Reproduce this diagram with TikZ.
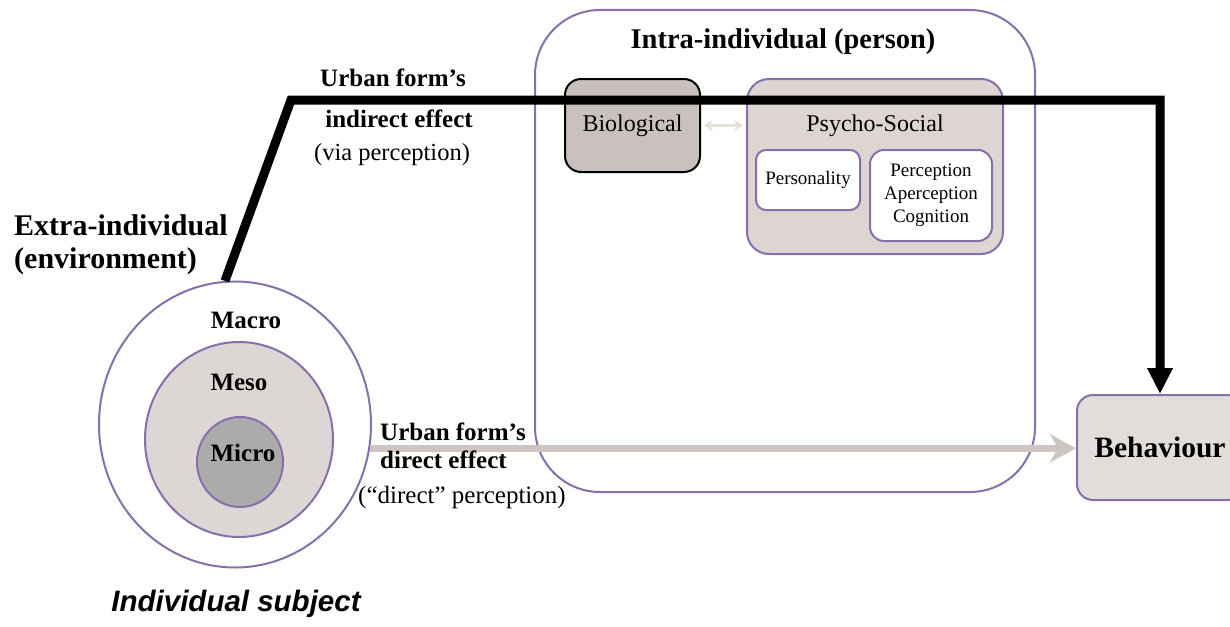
\documentclass[tikz,border=0pt]{standalone}
\usepackage{fontspec}
\setmainfont{Liberation Serif}
\newfontfamily\arialf{Liberation Sans}
\usetikzlibrary{arrows.meta,shapes.geometric,calc}
\definecolor{purp}{HTML}{8570AC}
\definecolor{biofill}{HTML}{C9C1BD}
\definecolor{psyfill}{HTML}{DCD5D2}
\definecolor{mesofill}{HTML}{DCD6D4}
\definecolor{microfill}{HTML}{ABABAB}
\definecolor{behfill}{HTML}{E0DDDB}
\definecolor{grayarrow}{HTML}{CDC5C2}
\definecolor{lightarrow}{HTML}{E6E4D8}
\newcommand{\fs}[1]{\fontsize{#1}{#1}\selectfont}
\tikzset{
  pbox/.style={draw=purp, line width=2pt, rectangle, inner sep=0pt},
  circ/.style={draw=purp, line width=2pt, ellipse, inner sep=0pt},
  lbl/.style={inner sep=0pt, font=\fs{25}},
  blbl/.style={inner sep=0pt, font=\fs{25}\bfseries},
  blackline/.style={line width=9pt, line join=miter},
}
\begin{document}
\begin{tikzpicture}[x=1pt,y=-1pt]
\useasboundingbox (0,0) rectangle (1230,626);
% Intra-individual container
\node[pbox, rounded corners=65pt, minimum width=500pt, minimum height=482pt] (intra) at (785,251) {};
\node[blbl, font=\fs{28.5}\bfseries] (intratitle) at (783,42) {Intra-individual (person)};
% Biological
\node[draw=black, line width=2pt, fill=biofill, rounded corners=16pt, minimum width=135pt, minimum height=93pt, font=\fs{24}] (bio) at (632.5,125.5) {Biological};
% Psycho-Social
\node[pbox, fill=psyfill, rounded corners=22pt, minimum width=256pt, minimum height=175pt] (psy) at (875,166.5) {};
\node[lbl, font=\fs{24}] (psytitle) at (875,126) {Psycho-Social};
\node[pbox, fill=white, rounded corners=10pt, minimum width=104pt, minimum height=60pt, font=\fs{19}] (pers) at (808,180) {\raisebox{-3pt}{Personality}};
\node[pbox, fill=white, rounded corners=14pt, minimum width=122pt, minimum height=91pt, font=\fs{19}, align=center] (perc) at (931,195.5) {Perception\\[4pt]Aperception\\[4pt]Cognition};
\draw[lightarrow, line width=3pt, {Stealth[length=9pt,width=12pt]}-{Stealth[length=9pt,width=12pt]}] ($(bio.east)+(3,0)$) -- ($(bio.east -| psy.west)+(-3,0)$);
% Behaviour
\node[pbox, fill=behfill, rounded corners=16pt, minimum width=166pt, minimum height=105pt, font=\fs{29.5}\bfseries] (behav) at (1160,447.5) {Behaviour};
% Circles
\node[circ, fill=white, minimum width=272pt, minimum height=286pt] (outer) at (235,424.5) {};
\node[circ, fill=mesofill, minimum width=188pt, minimum height=195pt] (meso) at (239,439.5) {};
\node[circ, fill=microfill, minimum width=86pt, minimum height=90pt] (micro) at (240,462) {};
\node[blbl] (macrol) at (246,320) {Macro};
\node[blbl] (mesol) at (239,382) {Meso};
\node[blbl] (microl) at (243,453) {Micro};
% Indirect effect path
\coordinate (bend) at (291,100);
\draw[blackline, -{Triangle[length=26pt,width=24pt]}] (outer.94) -- (bend) -- (bend -| behav.north) -- (behav.north);
% Direct effect arrow
\draw[grayarrow, line width=7pt, -{Stealth[length=26pt,width=28pt,inset=8pt]}] (outer.-10) -- (outer.-10 -| behav.west);
% Labels
\node[blbl, font=\fs{25}\bfseries] (uf1) at (393,78) {Urban form’s};
\node[blbl, font=\fs{25}\bfseries] (ie) at (399,119) {indirect effect};
\node[lbl, font=\fs{24.5}] (vp) at (392,155) {(via perception)};
\node[blbl, font=\fs{30}\bfseries, anchor=west] (extra1) at (14,225) {Extra-individual};
\node[blbl, font=\fs{30}\bfseries, anchor=west] (extra2) at (14,261) {(environment)};
\node[blbl, anchor=west] (uf2) at (380,432) {Urban form’s};
\node[blbl, anchor=west] (de) at (380,460) {direct effect};
\node[lbl, anchor=west] (dp) at (358,497) {(“direct” perception)};
\node[inner sep=0pt, font=\arialf\fs{29.5}\bfseries\itshape] (indiv) at (236,604) {Individual subject};
\end{tikzpicture}
\end{document}
